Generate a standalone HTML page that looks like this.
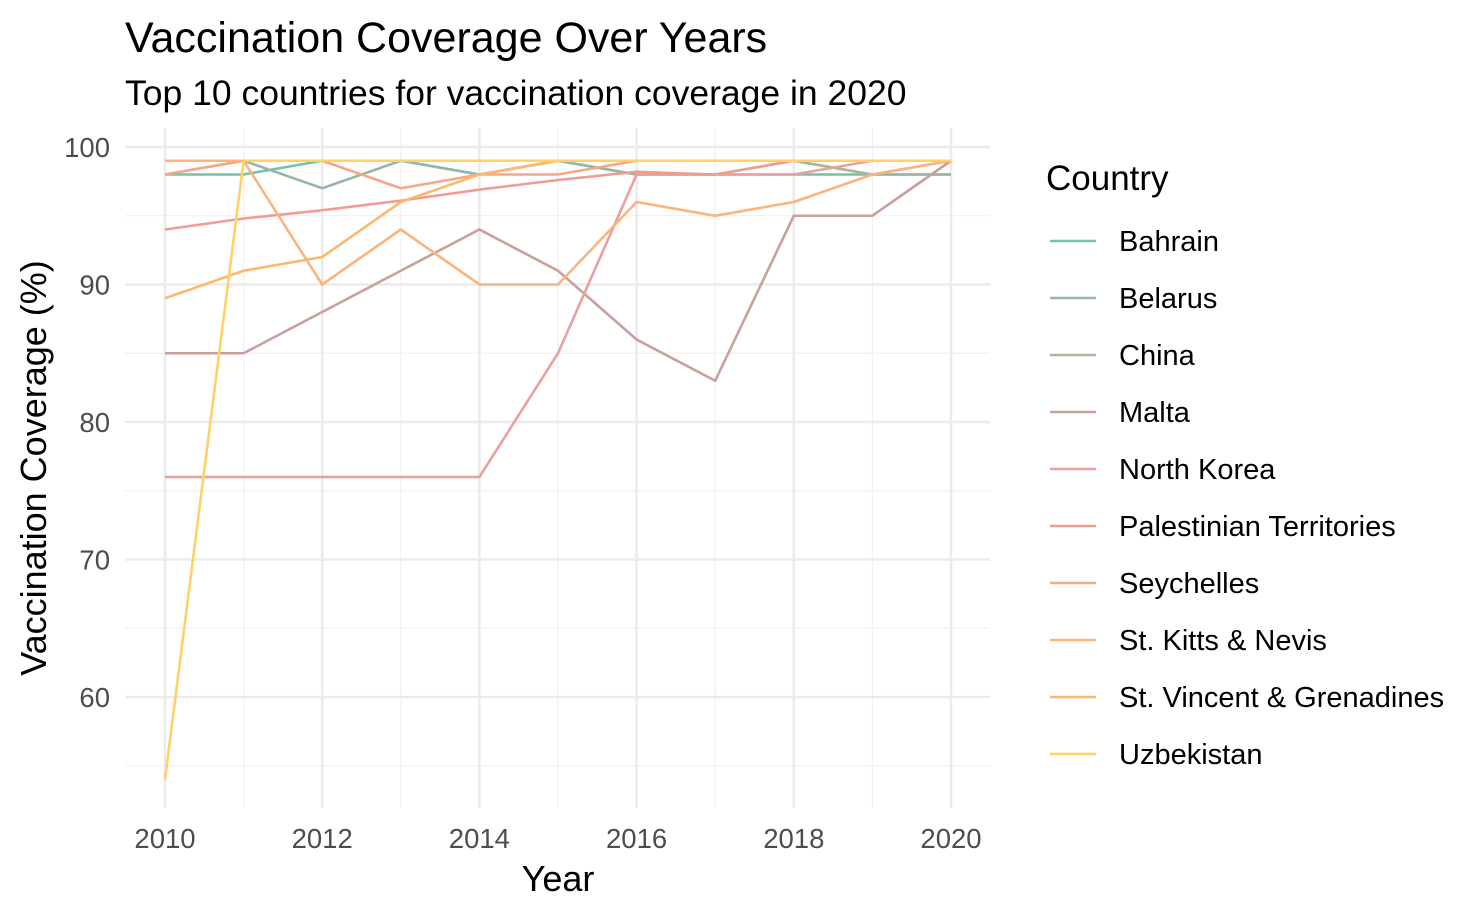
<!DOCTYPE html>
<html><head><meta charset="utf-8"><style>
body{margin:0;background:#fff;font-family:"Liberation Sans",sans-serif}
</style></head><body>
<svg id="chart" width="1482" height="916" xmlns="http://www.w3.org/2000/svg" font-family="Liberation Sans, sans-serif">
<text x="125" y="52" font-size="43" fill="#000">Vaccination Coverage Over Years</text>
<text x="125" y="105" font-size="35.5" fill="#000">Top 10 countries for vaccination coverage in 2020</text>
<g id="grid"></g>
<g id="lines"></g>
<g id="ticks"></g>
<text x="558" y="891" font-size="36" text-anchor="middle">Year</text>
<text transform="translate(46,468) rotate(-90)" font-size="36" text-anchor="middle">Vaccination Coverage (%)</text>
<text x="1046" y="190" font-size="35">Country</text>
<g id="legend"></g>
</svg>
<script>
const years=[2010,2011,2012,2013,2014,2015,2016,2017,2018,2019,2020];
const countries=["Bahrain","Belarus","China","Malta","North Korea","Palestinian Territories","Seychelles","St. Kitts & Nevis","St. Vincent & Grenadines","Uzbekistan"];
const colors=["#76C1A8","#94B8A5","#B2B2A2","#C8A19D","#E8A0A0","#F29B92","#F7A687","#FAB47E","#FDB96B","#FFD166"];
const bahrain=[98,98,99,99,98,99,98,98,98,98,98];
const belarus=[98,99,97,99,98,99,98,98,99,98,98];
const china=[99,99,99,99,99,99,99,99,99,98,99];
const malta=[85,85,88,91,94,91,86,83,95,95,99];
const northKorea=[76,76,76,76,76,85,98,98,98,99,99];
const palestinian=[94,94.8,95.4,96.1,96.9,97.6,98.2,98,99,99,99];
const seychelles=[98,99,99,97,98,98,99,99,99,99,99];
const stKitts=[99,99,90,94,90,90,96,95,96,98,99];
const stVincent=[89,91,92,96,98,99,99,99,99,99,99];
const uzbekistan=[54,99,99,99,99,99,99,99,99,99,99];
const series=[bahrain,belarus,china,malta,northKorea,palestinian,seychelles,stKitts,stVincent,uzbekistan];
const xTicks=[2010,2012,2014,2016,2018,2020];
const yTicks=[60,70,80,90,100];
const NS="http://www.w3.org/2000/svg";
const X=v=>165+(v-2010)*78.6;
const Y=v=>147+(100-v)*13.75;
const L=125,R=990,T=128,B=808;
function mk(t,a,p){const e=document.createElementNS(NS,t);for(const k in a)e.setAttribute(k,a[k]);p.appendChild(e);return e;}
const grid=document.getElementById('grid');
for(let y=2011;y<=2019;y+=2){const g=mk('line',{x1:X(y),x2:X(y),y1:T,y2:B,stroke:'#f1f1f1','stroke-width':1.2},grid);

}
for(let v=55;v<=95;v+=10){const g=mk('line',{x1:L,x2:R,y1:Y(v),y2:Y(v),stroke:'#f1f1f1','stroke-width':1.2},grid);

}
const ticks=document.getElementById('ticks');
xTicks.forEach(y=>{const g=mk('line',{x1:X(y),x2:X(y),y1:T,y2:B,stroke:'#ebebeb','stroke-width':2.5},grid);


const t=mk('text',{x:X(y),y:848,'font-size':27.5,'text-anchor':'middle',fill:'#4d4d4d'},ticks);t.textContent=y;

});
yTicks.forEach(v=>{const g=mk('line',{x1:L,x2:R,y1:Y(v),y2:Y(v),stroke:'#ebebeb','stroke-width':2.5},grid);


const t=mk('text',{x:110,y:Y(v)+10,'font-size':27.5,'text-anchor':'end',fill:'#4d4d4d'},ticks);t.textContent=v;

});
const lines=document.getElementById('lines');
series.forEach((s,i)=>{const p=mk('polyline',{points:s.map((v,j)=>X(years[j])+','+Y(v)).join(' '),fill:'none',stroke:colors[i],'stroke-width':2.6},lines);

});
const leg=document.getElementById('legend');
countries.forEach((c,i)=>{const y=241+i*57;
const g=mk('g',{},leg);


mk('line',{x1:1050,x2:1096,y1:y,y2:y,stroke:colors[i],'stroke-width':2.6},g);
const t=mk('text',{x:1119,y:y+10,'font-size':29,fill:'#000'},g);t.textContent=c;});
</script>
</body></html>
